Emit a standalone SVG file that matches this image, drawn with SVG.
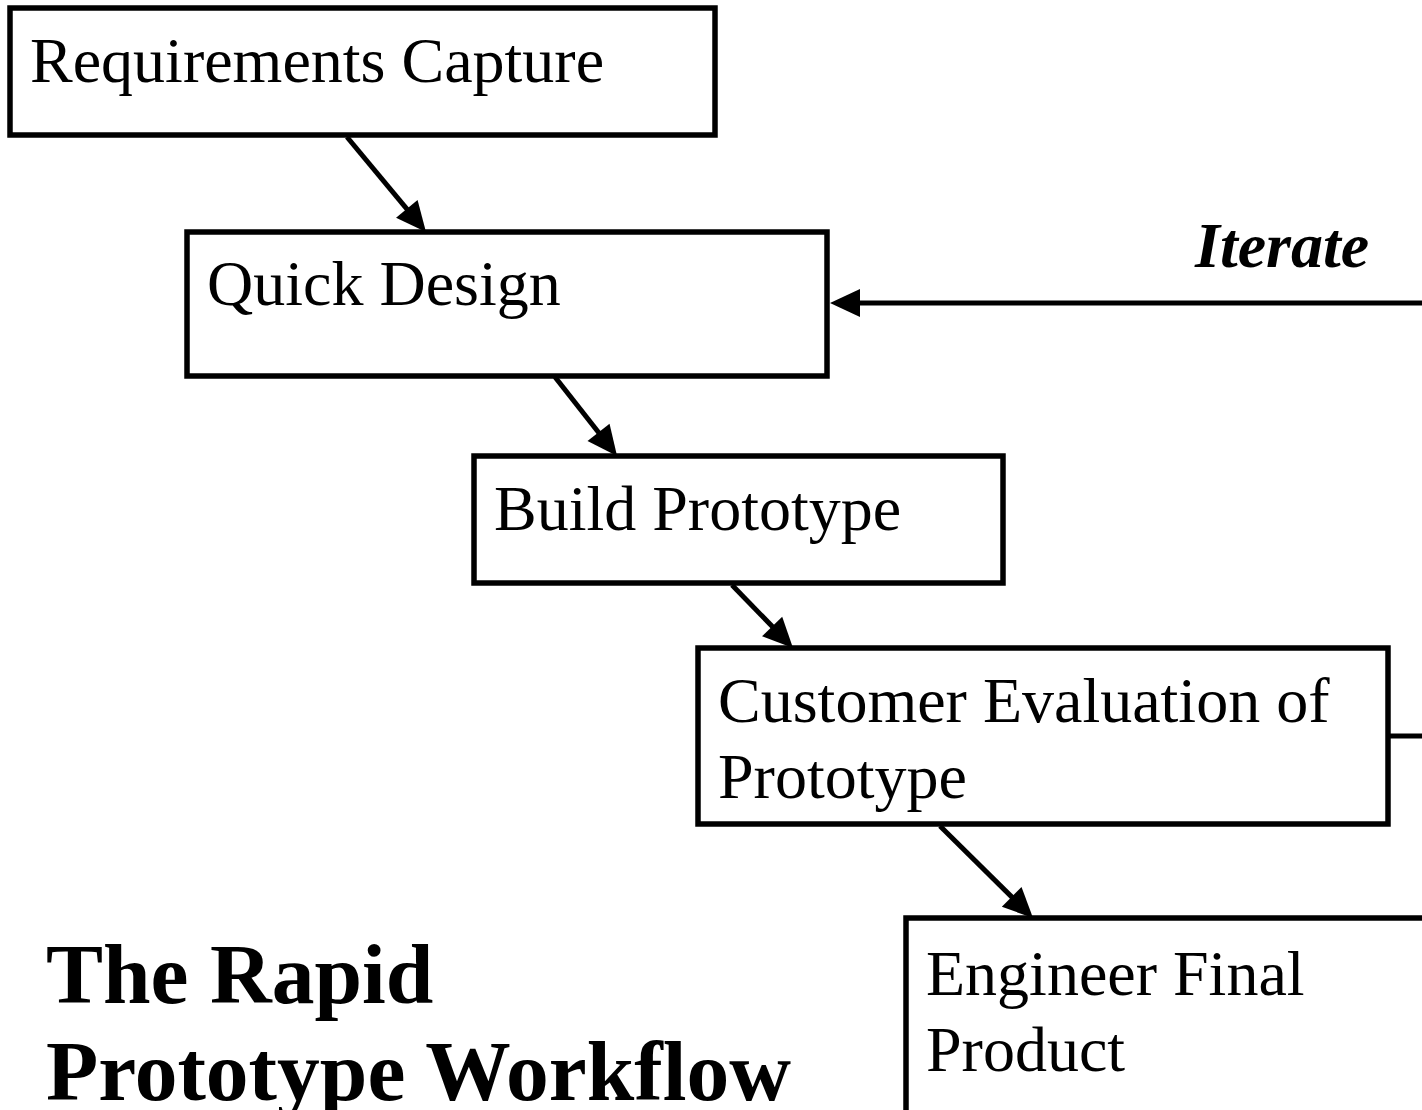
<svg xmlns="http://www.w3.org/2000/svg" width="1422" height="1110" viewBox="0 0 1422 1110">
<style>
.box{fill:#fff;stroke:#000;stroke-width:5.5}
.lbl{font-family:"Liberation Serif","Times New Roman",serif;font-size:64px;fill:#000}
.title{font-family:"Liberation Serif","Times New Roman",serif;font-size:85.5px;font-weight:bold;fill:#000}
.iter{font-family:"Liberation Serif","Times New Roman",serif;font-size:64px;font-weight:bold;font-style:italic;fill:#000}
.conn{stroke:#000;stroke-width:5;fill:none}
</style>
<defs>
<marker id="ah" markerUnits="userSpaceOnUse" markerWidth="30" markerHeight="28" refX="10" refY="14" orient="auto" overflow="visible">
<path d="M0,0 L30,14 L0,28 z" fill="#000"/>
</marker>
</defs>
<rect width="1422" height="1110" fill="#fff"/>
<g id="n1"><rect class="box" x="10" y="8" width="705" height="127"/><text class="lbl" x="30" y="82">Requirements Capture</text></g>
<g id="n2"><rect class="box" x="187" y="232" width="640" height="144"/><text class="lbl" x="207" y="305">Quick Design</text></g>
<g id="n3"><rect class="box" x="474" y="456" width="529" height="127"/><text class="lbl" x="494" y="530">Build Prototype</text></g>
<g id="n4"><rect class="box" x="698" y="648" width="690" height="176"/><text class="lbl" x="718" y="722">Customer Evaluation of</text><text class="lbl" x="718" y="798">Prototype</text></g>
<g id="n5"><rect class="box" x="906" y="918" width="530" height="200"/><text class="lbl" x="926" y="995">Engineer Final</text><text class="lbl" x="926" y="1071">Product</text></g>
<g id="title"><text class="title" x="46" y="1003">The Rapid</text><text class="title" x="46" y="1100">Prototype Workflow</text></g>
<g id="connectors">
<line class="conn" x1="347" y1="137" x2="413.2" y2="216.6" marker-end="url(#ah)"/>
<line class="conn" x1="555" y1="377" x2="604.7" y2="440.3" marker-end="url(#ah)"/>
<line class="conn" x1="732" y1="585" x2="779.1" y2="633.6" marker-end="url(#ah)"/>
<line class="conn" x1="940" y1="826" x2="1018.8" y2="903.9" marker-end="url(#ah)"/>
<line class="conn" x1="1422" y1="303" x2="850" y2="303" marker-end="url(#ah)"/>
<line class="conn" x1="1388" y1="736" x2="1422" y2="736"/>
<text class="iter" x="1195" y="267">Iterate</text>
</g>
</svg>
